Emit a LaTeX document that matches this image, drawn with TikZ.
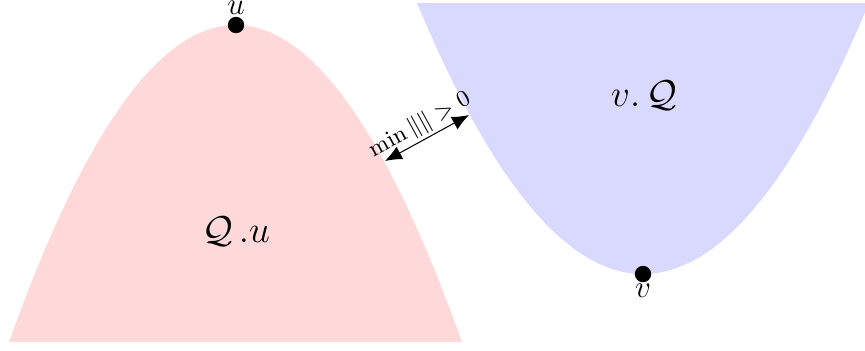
\documentclass[tikz,border=0pt]{standalone}
\usetikzlibrary{arrows.meta}
\begin{document}
\begin{tikzpicture}[x=0.3846pt, y=-0.3846pt,
  dot/.style={circle, fill=black, inner sep=0pt, minimum size=6.3pt},
  big/.style={font=\Large},
  pt/.style={font=\large, inner sep=0.5pt}]
\useasboundingbox (0,0) rectangle (865,350);
\fill[red!15] plot[domain=9:462, samples=120] (\x,{25+61.8*((\x-235.5)/100)^2}) -- cycle;
\begin{scope}
\clip (0,0) rectangle (865,350);
\fill[blue!15] plot[domain=417:869, samples=120] (\x,{274-53.06*((\x-643)/100)^2}) -- cycle;
\end{scope}
\node[dot, label={[pt]above:$u$}] (u) at (236,25) {};
\node[dot, label={[pt]below:$v$}] (v) at (643,274) {};
\node[big] (qu) at (236,232) {$\mathcal{Q}\,.u$};
\node[big] (vq) at (644,96) {$v.\,\mathcal{Q}$};
\coordinate (a) at (385,161);
\coordinate (b) at (469,115);
\draw[{Latex[length=6.5pt,width=5.5pt]}-{Latex[length=6.5pt,width=5.5pt]}] (a) -- (b)
  node[midway, above, sloped, font=\small, inner sep=1pt] (lbl) {$\min\|\|>0$};
\end{tikzpicture}
\end{document}
